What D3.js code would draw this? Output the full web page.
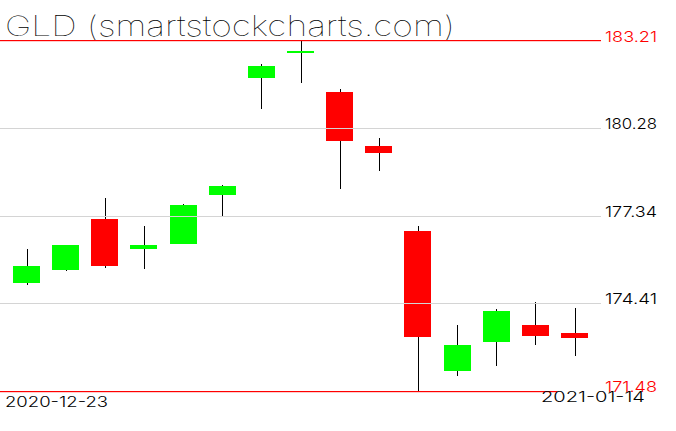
<!DOCTYPE html>
<html><head><meta charset="utf-8">
<script src="https://cdn.jsdelivr.net/npm/d3@7"></script>
<style>body{margin:0;background:#fff}svg{display:block}</style>
</head><body>
<svg id="c" width="676" height="431"></svg>
<script>
const dates = ["2020-12-23","2020-12-24","2020-12-28","2020-12-29","2020-12-30","2020-12-31","2021-01-04","2021-01-05","2021-01-06","2021-01-07","2021-01-08","2021-01-11","2021-01-12","2021-01-13","2021-01-14"];
const opens  = [175.07,175.50,177.24,176.21,176.41,178.05,181.94,182.86,181.50,179.69,176.84,172.12,173.09,173.69,173.42];
const highs  = [176.21,176.37,177.92,176.98,177.74,178.38,182.41,183.21,181.57,179.93,176.98,173.69,174.20,174.46,174.23];
const lows   = [175.03,175.47,175.60,175.54,176.38,177.31,180.93,181.80,178.22,178.82,171.48,171.98,172.29,173.02,172.62];
const closes = [175.64,176.34,175.67,176.34,177.71,178.35,182.34,182.87,179.86,179.46,173.29,172.99,174.13,173.32,173.26];
const priceTicks = [171.48,174.41,177.34,180.28,183.21];
const title = "GLD (smartstockcharts.com)";

const svg = d3.select("#c");
const x = d3.scalePoint().domain(dates).range([26.5, 574.5]);
const y = d3.scaleLinear().domain([171.48, 183.21]).range([390.5, 40.5]);
const bw = x.step() * 0.69;
const minP = d3.min(priceTicks), maxP = d3.max(priceTicks);
const FONT = "Inter, 'Noto Sans', 'DejaVu Sans', sans-serif";

// wicks
svg.append("g").selectAll("line").data(dates).join("line")
  .attr("x1", d => Math.round(x(d)) + 0.5).attr("x2", d => Math.round(x(d)) + 0.5)
  .attr("y1", (d,i) => y(highs[i])).attr("y2", (d,i) => y(lows[i]))
  .attr("stroke", "#000").attr("stroke-width", 1).attr("shape-rendering","crispEdges");

// bodies
svg.append("g").selectAll("rect").data(dates).join("rect")
  .attr("x", d => Math.round(x(d) - bw/2))
  .attr("width", Math.round(bw))
  .attr("y", (d,i) => Math.round(y(Math.max(opens[i], closes[i]))))
  .attr("height", (d,i) => Math.max(2, Math.round(Math.abs(y(opens[i]) - y(closes[i])))))
  .attr("fill", (d,i) => closes[i] >= opens[i] ? "#00ff00" : "#ff0000")
  .attr("shape-rendering","crispEdges");

// grid lines (drawn on top)
svg.append("g").selectAll("line").data(priceTicks.filter(p => p !== minP && p !== maxP)).join("line")
  .attr("x1", 0).attr("x2", 601).attr("y1", d => Math.round(y(d)) + 0.5).attr("y2", d => Math.round(y(d)) + 0.5)
  .attr("stroke", "#d4d4d4").attr("stroke-width", 1).attr("shape-rendering","crispEdges");

// min/max red lines
svg.append("rect").attr("x",0).attr("width",601).attr("y", Math.round(y(maxP))-1).attr("height",1.2)
  .attr("fill","#ff0000");
svg.append("rect").attr("x",0).attr("width",557).attr("y", Math.round(y(minP))).attr("height",1.2)
  .attr("fill","#ff0000");

// price labels
svg.append("g").selectAll("text").data(priceTicks).join("text")
  .attr("x", 605).attr("y", d => y(d) + 1)
  .attr("font-family", FONT).attr("font-weight", 300).attr("font-size", 15)
  .attr("textLength", 52).attr("lengthAdjust","spacingAndGlyphs")
  .attr("fill", d => (d === minP || d === maxP) ? "#ff0000" : "#000")
  .text(d => d.toFixed(2));

// date labels
svg.append("text").attr("x", 5).attr("y", 407)
  .attr("font-family",FONT).attr("font-weight",300).attr("font-size",14)
  .attr("textLength",103).attr("lengthAdjust","spacingAndGlyphs")
  .text(dates[0]);
svg.append("text").attr("x", 541).attr("y", 402)
  .attr("font-family",FONT).attr("font-weight",300).attr("font-size",14)
  .attr("textLength",104).attr("lengthAdjust","spacingAndGlyphs")
  .text(dates[dates.length-1]);

// title
svg.append("text").attr("x", 5).attr("y", 36)
  .attr("font-family",FONT).attr("font-weight",100).attr("font-size",28)
  .attr("textLength",450).attr("lengthAdjust","spacingAndGlyphs")
  .text(title);
</script>
</body></html>
